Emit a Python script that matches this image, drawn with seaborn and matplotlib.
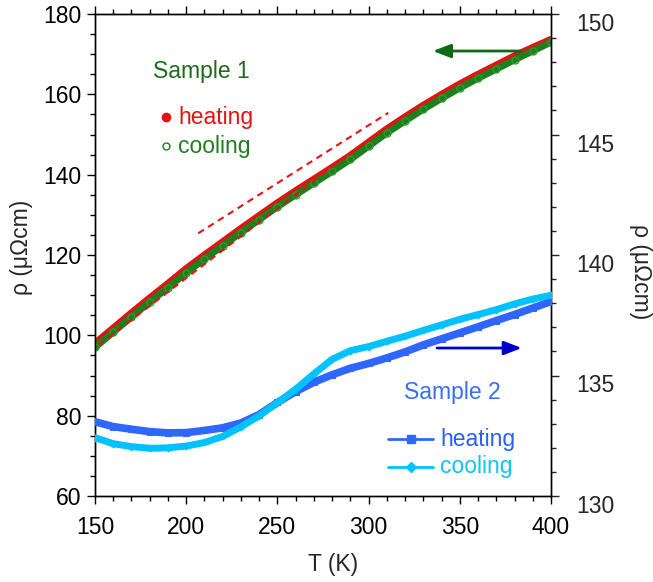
import numpy as np
import pandas as pd
import matplotlib
matplotlib.use("Agg")
import matplotlib.pyplot as plt
import matplotlib.transforms as mtransforms
from matplotlib.lines import Line2D
from matplotlib.ticker import MultipleLocator
import seaborn as sns

# ---------------- data ----------------
T = [150, 160, 170, 180, 190, 200, 210, 220, 230, 240, 250, 260, 270,
     280, 290, 300, 310, 320, 330, 340, 350, 360, 370, 380, 390, 400]

# Sample 1 (left axis, µΩcm)
s1_heating = [97.8, 101.6, 105.4, 109.1, 112.7, 116.4, 119.8, 123.1, 126.4,
              129.6, 132.8, 135.8, 138.7, 141.6, 144.6, 147.9, 151.2, 154.2,
              157.1, 159.8, 162.4, 164.8, 167.1, 169.4, 171.5, 173.5]
s1_cooling = [97.0, 100.8, 104.6, 108.3, 111.9, 115.6, 119.0, 122.3, 125.6,
              128.8, 132.0, 135.0, 137.9, 140.8, 143.8, 147.1, 150.4, 153.4,
              156.3, 159.0, 161.6, 164.0, 166.3, 168.6, 170.8, 173.0]

# Sample 2 (right axis, µΩcm)
s2_heating = [133.08, 132.88, 132.77, 132.67, 132.62, 132.63, 132.72, 132.83,
              133.03, 133.38, 133.88, 134.33, 134.72, 135.03, 135.30, 135.50,
              135.73, 135.98, 136.27, 136.52, 136.77, 137.02, 137.28, 137.53,
              137.80, 138.07]
s2_cooling = [132.42, 132.17, 132.05, 131.98, 132.00, 132.07, 132.22, 132.47,
              132.87, 133.33, 133.87, 134.43, 135.07, 135.67, 136.03, 136.20,
              136.42, 136.63, 136.87, 137.10, 137.33, 137.53, 137.73, 137.97,
              138.17, 138.33]

# linear guides (dashed)
fit_low_T = [152.0, 290.7]
fit_low_rho = [97.6, 145.7]
fit_high_T = [206.6, 310.8]
fit_high_rho = [125.4, 155.4]

# ---------------- style ----------------
sns.set_style("ticks")
plt.rcParams['font.family'] = ['Liberation Sans', 'DejaVu Sans']
plt.rcParams['font.size'] = 16.5
plt.rcParams['axes.linewidth'] = 1.0

RED = "#e41212"
GREEN = "#1f7f1f"
DKGREEN = "#1b6b1b"
BLUE = "#2f66ff"
CYAN = "#00c2ff"

fig = plt.figure(figsize=(6.53, 5.82), dpi=100)
ax = fig.add_axes([95 / 653, 86 / 582, 456 / 653, 482 / 582])
ax2 = ax.twinx()

df1h = pd.DataFrame({"T": T, "rho": s1_heating})
df1c = pd.DataFrame({"T": T, "rho": s1_cooling})
df2h = pd.DataFrame({"T": T, "rho": s2_heating})
df2c = pd.DataFrame({"T": T, "rho": s2_cooling})

sns.lineplot(data=df1h, x="T", y="rho", ax=ax, color=RED, lw=6,
             marker="o", ms=5, mfc=RED, mec=RED, zorder=3)
sns.lineplot(data=df1c, x="T", y="rho", ax=ax, color=GREEN, lw=5,
             marker="o", ms=5, mfc="none", mec="#2f9a2f", mew=1, zorder=4)
sns.lineplot(x=fit_low_T, y=fit_low_rho, ax=ax, color=RED, lw=1.5,
             linestyle=(0, (3.2, 2.4)), zorder=5)
sns.lineplot(x=fit_high_T, y=fit_high_rho, ax=ax, color=RED, lw=1.5,
             linestyle=(0, (3.2, 2.4)), zorder=5)

sns.lineplot(data=df2h, x="T", y="rho", ax=ax2, color=BLUE, lw=5.5,
             marker="s", ms=4, mfc=BLUE, mec=BLUE, zorder=3)
sns.lineplot(data=df2c, x="T", y="rho", ax=ax2, color=CYAN, lw=5,
             marker="D", ms=3.5, mfc=CYAN, mec=CYAN, zorder=4)

# ---------------- axes ----------------
ax.set_xlim(150, 400)
ax.set_ylim(60, 180)
ax2.set_ylim(130, 150)
ax.xaxis.set_major_locator(MultipleLocator(50))
ax.xaxis.set_minor_locator(MultipleLocator(10))
ax.yaxis.set_major_locator(MultipleLocator(20))
ax.yaxis.set_minor_locator(MultipleLocator(5))
ax2.yaxis.set_major_locator(MultipleLocator(5))
ax2.yaxis.set_minor_locator(MultipleLocator(1))

ax.tick_params(which="both", direction="out", top=True, right=False,
               labelsize=16.5, width=1, colors="black")
ax.tick_params(which="major", length=6)
ax.tick_params(which="minor", length=3.6)
ax.tick_params(axis="x", which="major", pad=8.5)
ax.tick_params(axis="y", which="major", pad=3.5)
ax2.tick_params(which="both", direction="out", labelsize=16.5, width=1)
ax2.tick_params(which="major", length=6, pad=12)
ax2.tick_params(which="minor", length=3.6)

for sp in list(ax.spines.values()) + list(ax2.spines.values()):
    sp.set_color("black")
    sp.set_linewidth(1.0)

ax.set_xlabel("T (K)", fontsize=16.5, va="center")
ax.xaxis.set_label_coords(0.522, -0.143)
ax.set_ylabel("ρ (μΩcm)", fontsize=16.5, va="center", ha="center")
ax.yaxis.set_label_coords(-0.162, 0.515)
ax2.set_ylabel("ρ (μΩcm)", fontsize=16.5, rotation=270, va="center", ha="center")
ax2.yaxis.set_label_coords(1.197, 0.465)

# ---------------- annotations ----------------
ax.text(0.2325, 0.8797, "Sample 1", color=DKGREEN, fontsize=16.5,
        ha="center", va="center", transform=ax.transAxes)
ax.add_line(Line2D([0.1557], [0.7863], marker="o", ms=6, color=RED,
                   mfc=RED, mec=RED, transform=ax.transAxes, ls="none"))
ax.text(0.182, 0.7863, "heating", color=RED, fontsize=16.5,
        ha="left", va="center", transform=ax.transAxes)
ax.add_line(Line2D([0.1557], [0.7261], marker="o", ms=5, color=GREEN,
                   mfc="none", mec=GREEN, transform=ax.transAxes, ls="none"))
ax.text(0.182, 0.7261, "cooling", color=GREEN, fontsize=16.5,
        ha="left", va="center", transform=ax.transAxes)

ax.text(0.7829, 0.2137, "Sample 2", color="#3a6ef0", fontsize=16.5,
        ha="center", va="center", transform=ax.transAxes)
ax.add_line(Line2D([0.6425, 0.7412], [0.1176, 0.1176], color=BLUE, lw=2,
                   transform=ax.transAxes))
ax.add_line(Line2D([0.693], [0.1176], marker="s", ms=6, color=BLUE,
                   transform=ax.transAxes, ls="none"))
ax.text(0.7566, 0.1176, "heating", color="#2a5ef5", fontsize=16.5,
        ha="left", va="center", transform=ax.transAxes)
ax.add_line(Line2D([0.6425, 0.7412], [0.0608, 0.0608], color=CYAN, lw=2,
                   transform=ax.transAxes))
ax.add_line(Line2D([0.693], [0.0608], marker="D", ms=5, color=CYAN,
                   transform=ax.transAxes, ls="none"))
ax.text(0.7566, 0.0608, "cooling", color="#10c4f5", fontsize=16.5,
        ha="left", va="center", transform=ax.transAxes)

ax.annotate("", xy=(0.741, 0.9232), xytext=(0.934, 0.9232),
            xycoords="axes fraction",
            arrowprops=dict(arrowstyle="-|>,head_length=0.65,head_width=0.25",
                            color="#0b6a12", lw=2, shrinkA=0, shrinkB=0))
ax.annotate("", xy=(0.936, 0.307), xytext=(0.75, 0.307),
            xycoords="axes fraction",
            arrowprops=dict(arrowstyle="-|>,head_length=0.65,head_width=0.25",
                            color="#0000c8", lw=2, shrinkA=0, shrinkB=0))

leg = ax.get_legend()
if leg:
    leg.remove()

# shift right-hand tick labels slightly downward (as in the reference)
offset = mtransforms.ScaledTranslation(0, -8 / 100, fig.dpi_scale_trans)
for lab in ax2.yaxis.get_majorticklabels():
    lab.set_transform(lab.get_transform() + offset)

fig.savefig("out.png", dpi=100)
